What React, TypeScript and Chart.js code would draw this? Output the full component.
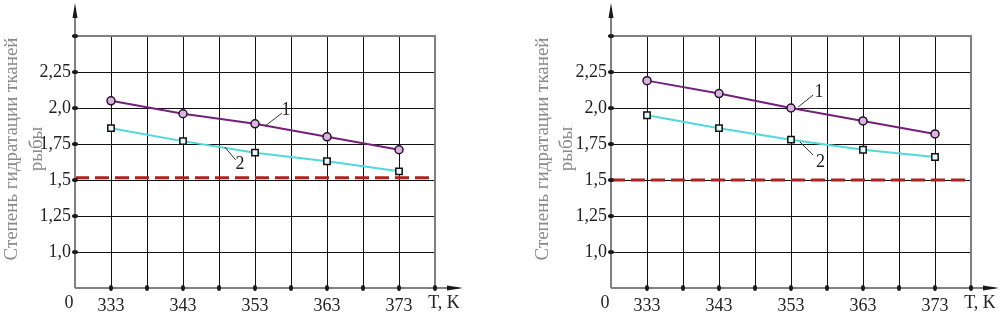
import React, { useEffect, useRef } from "react";
import { Chart, registerables } from "chart.js";

Chart.register(...registerables);

// ---- data ----
const temperatures = [333, 343, 353, 363, 373];
const leftCurve1 = [2.05, 1.96, 1.89, 1.8, 1.71];
const leftCurve2 = [1.86, 1.77, 1.69, 1.63, 1.56];
const leftLimit = 1.515;
const rightCurve1 = [2.19, 2.1, 2.0, 1.91, 1.82];
const rightCurve2 = [1.95, 1.86, 1.78, 1.71, 1.66];
const rightLimit = 1.5;

const xLabeledTicks = [333, 343, 353, 363, 373];
const yLabeledTicks = [1.0, 1.25, 1.5, 1.75, 2.0, 2.25];
const yTitleLines = ["Степень гидратации тканей", "рыбы"];
const xAxisName = "T, K";
const originLabel = "0";

const X_MIN = 328;
const X_MAX = 378;
const Y_MIN = 0.75;
const Y_MAX = 2.5;

type Callout = { text: string; from: [number, number]; to: [number, number]; at: [number, number] };

const leftCallouts: Callout[] = [
  { text: "1", from: [354.4, 1.875], to: [356.75, 1.965], at: [357.3, 1.985] },
  { text: "2", from: [348.8, 1.729], to: [350.3, 1.64], at: [350.9, 1.61] },
];
const rightCallouts: Callout[] = [
  { text: "1", from: [354.0, 2.007], to: [356.06, 2.09], at: [356.9, 2.11] },
  { text: "2", from: [354.25, 1.764], to: [356.06, 1.674], at: [357.1, 1.625] },
];

const FONT = "Liberation Serif, DejaVu Serif, serif";

function fmtY(v: number): string {
  if (Math.abs(v - Math.round(v)) < 1e-9) return `${Math.round(v)},0`;
  return String(+v.toFixed(2)).replace(".", ",");
}

function makeConfig(
  c1: number[],
  c2: number[],
  limit: number,
  callouts: Callout[],
  yAxisWidth: number,
  rightPad: number,
  titleX: [number, number]
): any {
  const framePlugin = {
    id: "frame",
    afterDraw(chart: any) {
      const { ctx, chartArea } = chart;
      const { left, right, top, bottom } = chartArea;
      const xs = chart.scales.x;
      const ys = chart.scales.y;
      ctx.save();
      ctx.strokeStyle = "#808080";
      ctx.lineWidth = 2;
      ctx.beginPath();
      ctx.moveTo(left, top);
      ctx.lineTo(right, top);
      ctx.lineTo(right, bottom);
      ctx.stroke();
      ctx.beginPath();
      ctx.moveTo(left, bottom);
      ctx.lineTo(left, 8);
      ctx.moveTo(left, bottom);
      ctx.lineTo(right + 24, bottom);
      ctx.stroke();
      ctx.fillStyle = "#1a1a1a";
      ctx.beginPath();
      ctx.moveTo(left, 3);
      ctx.lineTo(left - 2.5, 18);
      ctx.lineTo(left + 2.5, 18);
      ctx.closePath();
      ctx.fill();
      ctx.beginPath();
      ctx.moveTo(right + 28, bottom);
      ctx.lineTo(right + 12, bottom - 2.5);
      ctx.lineTo(right + 12, bottom + 2.5);
      ctx.closePath();
      ctx.fill();
      for (let v = Y_MIN + 0.25; v <= Y_MAX + 1e-9; v += 0.25) {
        const py = ys.getPixelForValue(v);
        ctx.beginPath();
        ctx.ellipse(left, py, 3, 2, 0, 0, Math.PI * 2);
        ctx.fill();
      }
      for (let v = X_MIN + 5; v <= X_MAX + 1e-9; v += 5) {
        const px = xs.getPixelForValue(v);
        ctx.beginPath();
        ctx.ellipse(px, bottom, 2, 3, 0, 0, Math.PI * 2);
        ctx.fill();
      }
      ctx.fillStyle = "#222";
      ctx.font = `18px ${FONT}`;
      ctx.textAlign = "center";
      ctx.textBaseline = "middle";
      ctx.fillText(originLabel, left - 6, bottom + 15);
      ctx.fillText(xAxisName, right + 9, bottom + 15);
      ctx.fillStyle = "#8a8a8a";
      ctx.font = `19px ${FONT}`;
      yTitleLines.forEach((line, i) => {
        ctx.save();
        ctx.translate(titleX[i], 149);
        ctx.rotate(-Math.PI / 2);
        ctx.fillText(line, 0, 0);
        ctx.restore();
      });
      ctx.strokeStyle = "#333";
      ctx.lineWidth = 1;
      ctx.fillStyle = "#222";
      ctx.font = `18px ${FONT}`;
      callouts.forEach((c) => {
        ctx.beginPath();
        ctx.moveTo(xs.getPixelForValue(c.from[0]), ys.getPixelForValue(c.from[1]));
        ctx.lineTo(xs.getPixelForValue(c.to[0]), ys.getPixelForValue(c.to[1]));
        ctx.stroke();
        ctx.fillText(c.text, xs.getPixelForValue(c.at[0]), ys.getPixelForValue(c.at[1]));
      });
      ctx.restore();
    },
  };

  const gridColor = (edgeMin: number, edgeMax: number) => (ctx: any) => {
    const v = ctx.tick ? ctx.tick.value : null;
    if (v === null) return "#111";
    if (Math.abs(v - edgeMin) < 1e-6 || Math.abs(v - edgeMax) < 1e-6) return "rgba(0,0,0,0)";
    return "#111";
  };

  return {
    type: "line",
    data: {
      datasets: [
        {
          label: "limit",
          data: [
            { x: X_MIN, y: limit },
            { x: X_MAX, y: limit },
          ],
          borderColor: "#b0201f",
          borderWidth: 3,
          borderDash: [14, 6],
          pointRadius: 0,
        },
        {
          label: "1",
          data: temperatures.map((t, i) => ({ x: t, y: c1[i] })),
          borderColor: "#74207a",
          borderWidth: 2,
          pointStyle: "circle",
          pointRadius: 4,
          pointBorderWidth: 1.5,
          pointBorderColor: "#2a1030",
          pointBackgroundColor: "#d9b4dc",
        },
        {
          label: "2",
          data: temperatures.map((t, i) => ({ x: t, y: c2[i] })),
          borderColor: "#50d8dc",
          borderWidth: 2,
          pointStyle: "rect",
          pointRadius: 4.5,
          pointBorderWidth: 1.5,
          pointBorderColor: "#111",
          pointBackgroundColor: "#e8fafa",
        },
      ],
    },
    options: {
      responsive: false,
      animation: false,
      devicePixelRatio: 1,
      layout: { padding: { top: 36, right: rightPad, bottom: 0, left: 0 } },
      plugins: { legend: { display: false }, tooltip: { enabled: false } },
      scales: {
        x: {
          type: "linear",
          min: X_MIN,
          max: X_MAX,
          afterFit: (s: any) => {
            s.height = 28;
          },
          border: { display: false },
          grid: { drawTicks: false, color: gridColor(X_MIN, X_MAX), lineWidth: 1 },
          ticks: {
            stepSize: 5,
            autoSkip: false,
            maxRotation: 0,
            padding: 7,
            color: "#222",
            font: { family: FONT, size: 18 },
            callback: (v: any) => (xLabeledTicks.includes(Number(v)) ? String(v) : ""),
          },
        },
        y: {
          type: "linear",
          min: Y_MIN,
          max: Y_MAX,
          afterFit: (s: any) => {
            s.width = yAxisWidth;
          },
          border: { display: false },
          grid: { drawTicks: false, color: gridColor(Y_MIN, Y_MAX), lineWidth: 1 },
          ticks: {
            stepSize: 0.25,
            autoSkip: false,
            padding: 4,
            color: "#222",
            font: { family: FONT, size: 18 },
            callback: (v: any) =>
              yLabeledTicks.some((t) => Math.abs(t - Number(v)) < 1e-6) ? fmtY(Number(v)) : "",
          },
        },
      },
    },
    plugins: [framePlugin],
  };
}

export default function App() {
  const leftRef = useRef<HTMLCanvasElement>(null);
  const rightRef = useRef<HTMLCanvasElement>(null);

  useEffect(() => {
    const a = new Chart(
      leftRef.current as HTMLCanvasElement,
      makeConfig(leftCurve1, leftCurve2, leftLimit, leftCallouts, 75, 65, [12, 37])
    );
    const b = new Chart(
      rightRef.current as HTMLCanvasElement,
      makeConfig(rightCurve1, rightCurve2, rightLimit, rightCallouts, 111, 29, [43, 67])
    );
    return () => {
      a.destroy();
      b.destroy();
    };
  }, []);

  return (
    <div style={{ position: "absolute", left: 0, top: 0, width: 1000, height: 316, background: "#fff" }}>
      <canvas ref={leftRef} width={500} height={316} style={{ position: "absolute", left: 0, top: 0 }} />
      <canvas ref={rightRef} width={500} height={316} style={{ position: "absolute", left: 500, top: 0 }} />
    </div>
  );
}
